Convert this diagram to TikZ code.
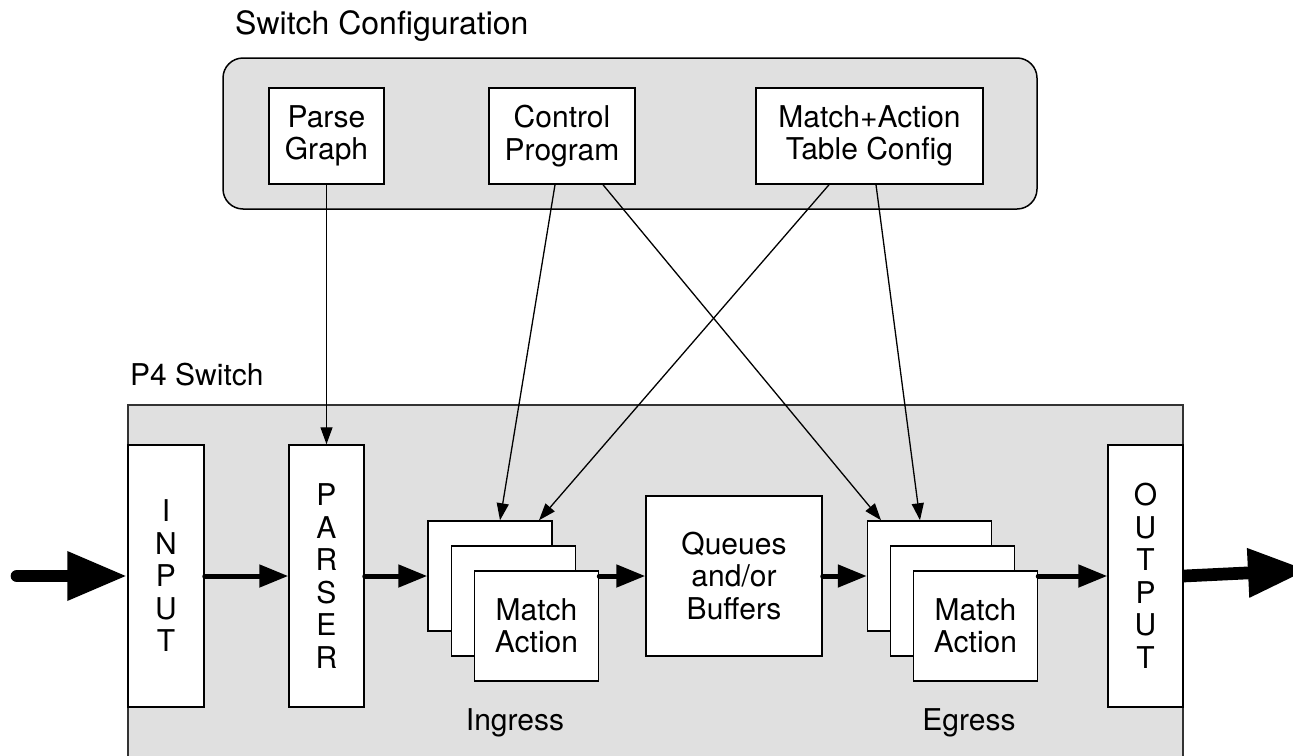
\documentclass[tikz,border=0pt]{standalone}
\usepackage{fontspec}
\setmainfont{TeX Gyre Heros}
\usetikzlibrary{arrows.meta,calc}
\definecolor{panel}{HTML}{E0E0E0}
\definecolor{edge}{HTML}{333333}
\tikzset{
  box/.style={draw=black, line width=1.5pt, fill=white, inner sep=0pt, align=center},
  lbl/.style={inner sep=0pt, align=center},
  thinarrow/.style={draw=black, line width=1.3pt, -{Triangle[length=17pt,width=12pt]}},
  flowarrow/.style={draw=black, line width=5pt, line cap=round, -{Triangle[length=29pt,width=22pt]}},
  bigarrow/.style={draw=black, line width=12.7pt, -{Triangle[length=60pt,width=46pt]}},
}
\begin{document}
\begin{tikzpicture}[x=1pt,y=-1pt,font=\fontsize{30}{32.5}\selectfont]
\clip (0,0) rectangle (1293,755);
\fill[white] (0,0) rectangle (1293,755);

% Switch configuration panel
\node[lbl, anchor=base west, font=\fontsize{32}{36}\selectfont] (cfglabel) at (235,34) {Switch Configuration};
\node[draw=black, line width=1.5pt, fill=panel, rounded corners=20pt, minimum width=814pt, minimum height=151pt, inner sep=0pt] (cfg) at (630,133.5) {};
\node[box, minimum width=115pt, minimum height=96pt] (pg) at (326.5,136) {Parse\\Graph};
\node[box, minimum width=146pt, minimum height=96pt] (cp) at (562,136) {Control\\Program};
\node[box, minimum width=227pt, minimum height=96pt] (mat) at (869.5,136) {Match+Action\\Table Config};

% P4 switch panel
\node[lbl, anchor=base west] (swlabel) at (130,385) {P4 Switch};
\node[draw=edge, line width=1.5pt, fill=panel, minimum width=1055pt, minimum height=360pt, inner sep=0pt] (sw) at (655.5,585) {};

\node[box, minimum width=76pt, minimum height=262pt] (input) at (166,576) {I\\N\\P\\U\\T};
\node[box, minimum width=75pt, minimum height=262pt] (parser) at (326.5,576) {P\\A\\R\\S\\E\\R};

\node[box, minimum width=124pt, minimum height=110pt] (ing1) at (490,576) {};
\node[box, minimum width=124pt, minimum height=110pt] (ing2) at (513.5,601) {};
\node[box, minimum width=124pt, minimum height=110pt] (ing3) at (536.5,626) {Match\\Action};

\node[box, minimum width=176pt, minimum height=160pt] (queue) at (734,576) {Queues\\and/or\\Buffers};

\node[box, minimum width=124pt, minimum height=110pt] (eg1) at (929.5,576) {};
\node[box, minimum width=124pt, minimum height=110pt] (eg2) at (952.5,601) {};
\node[box, minimum width=124pt, minimum height=110pt] (eg3) at (975.5,626) {Match\\Action};

\node[box, minimum width=75pt, minimum height=262pt] (output) at (1145.5,576) {O\\U\\T\\P\\U\\T};

\node[lbl] (inglabel) at (515,723) {Ingress};
\node[lbl] (eglabel) at (969,723) {Egress};

% configuration connectors
\draw[thinarrow] (pg.south) -- (parser.north);
\draw[thinarrow] ([xshift=-7pt]cp.south) -- ([xshift=10pt]ing1.north);
\draw[thinarrow] ([xshift=41pt]cp.south) -- ([xshift=-48.5pt]eg1.north);
\draw[thinarrow] ([xshift=-40.5pt]mat.south) -- ([xshift=49pt]ing1.north);
\draw[thinarrow] ([xshift=6.5pt]mat.south) -- ([xshift=-9.5pt]eg1.north);

% packet flow
\coordinate (inStart) at (17,576);
\coordinate (outEnd) at (1308,570);
\draw[bigarrow, line cap=round] (inStart) -- (input.west);
\draw[flowarrow] (input.east) -- (parser.west);
\draw[flowarrow] (parser.east) -- (ing1.west);
\draw[flowarrow] (ing3.east |- queue.west) -- (queue.west);
\draw[flowarrow] (queue.east) -- (eg1.west);
\draw[flowarrow] (eg3.east |- output.west) -- (output.west);
\draw[bigarrow] (output.east) -- (outEnd);
\end{tikzpicture}
\end{document}
